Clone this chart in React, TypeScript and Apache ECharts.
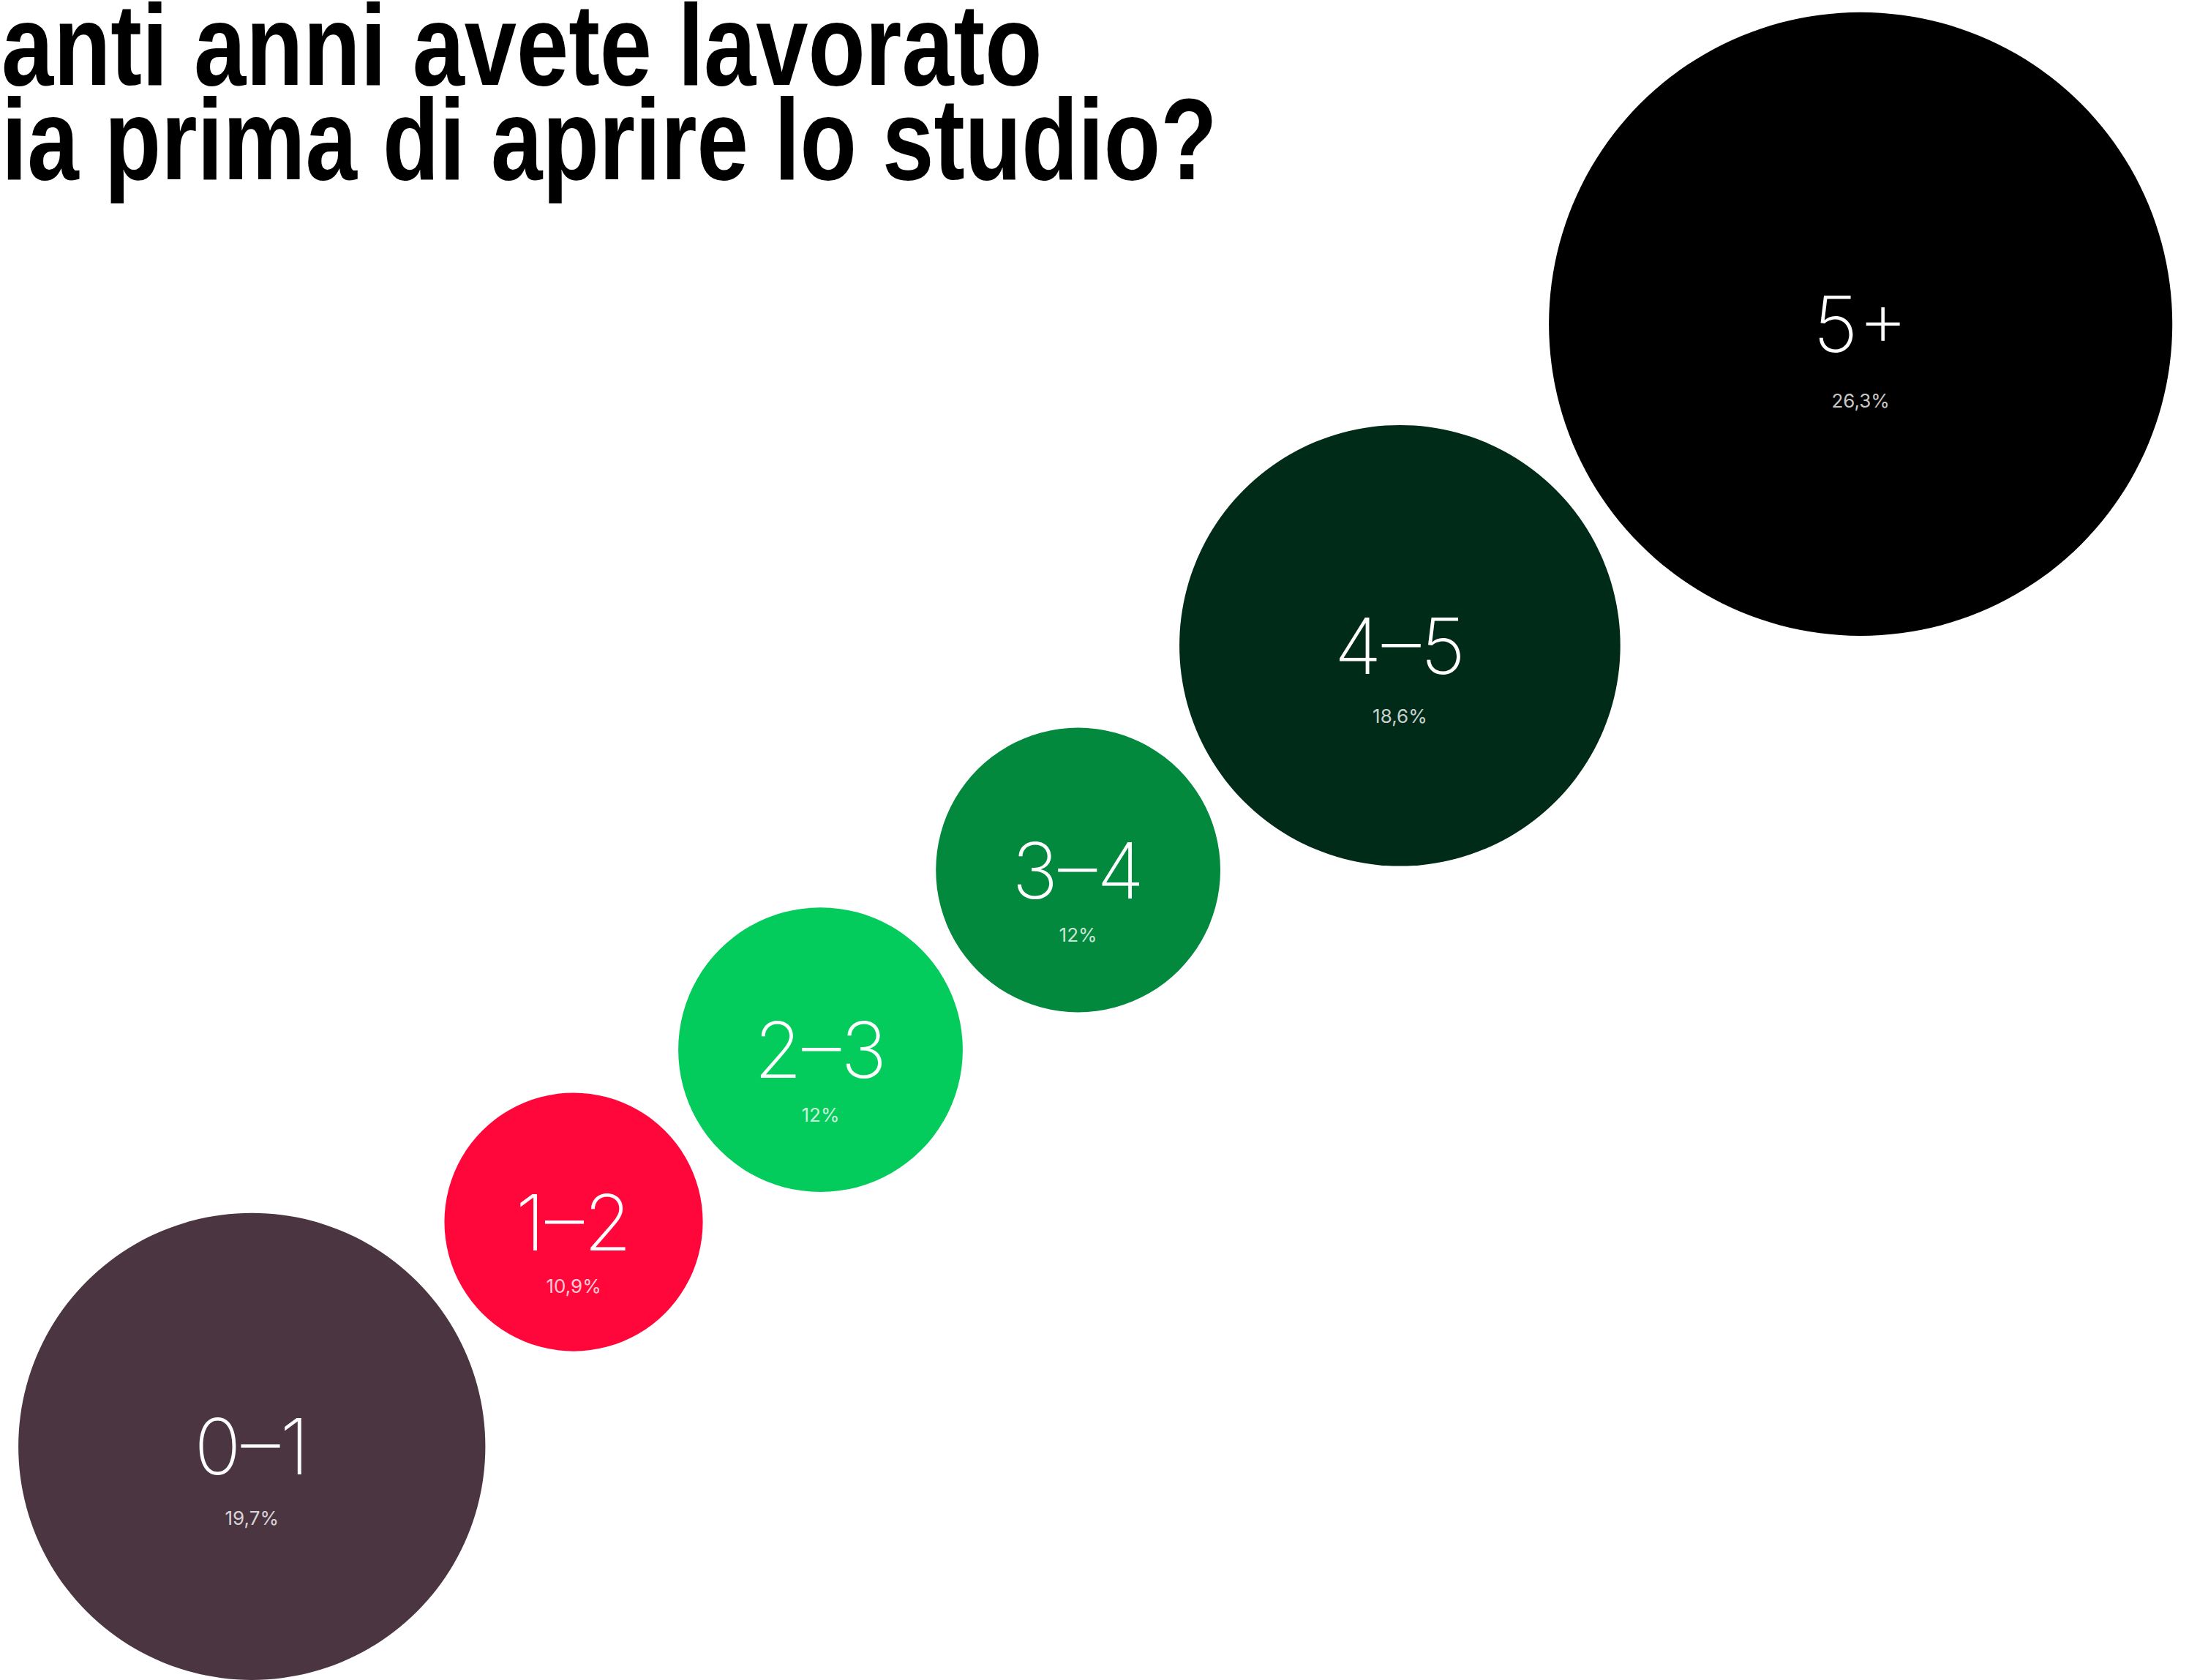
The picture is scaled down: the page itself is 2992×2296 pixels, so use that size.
import React, { useEffect, useRef } from "react";
import * as echarts from "echarts";

// ---- data ----
const categories = ["0–1", "1–2", "2–3", "3–4", "4–5", "5+"];
const shares = [19.7, 10.9, 12, 12, 18.6, 26.3];
const shareLabels = ["19,7%", "10,9%", "12%", "12%", "18,6%", "26,3%"];
const colors = ["#4A3541", "#FF073B", "#03CB5C", "#02893D", "#012B19", "#000000"];
const titleLines = ["anti anni avete lavorato", "ia prima di aprire lo studio?"];

// ---- layout constants ----
const W = 2992;
const H = 2296;
const PX_PER_UNIT = 16.2; // radius in px per percentage point
const GAP = 2.5; // gap between bubbles, in percentage units
const ANGLE = (34.9 * Math.PI) / 180;
const X_PAD = 1.55;

function layout() {
  const pts: number[][] = [];
  let s = 0;
  for (let i = 0; i < shares.length; i++) {
    if (i > 0) s += shares[i - 1] + GAP + shares[i];
    const x = shares[0] + X_PAD + s * Math.cos(ANGLE);
    const y = shares[0] + s * Math.sin(ANGLE);
    pts.push([x, y]);
  }
  return pts;
}

const titleStyle = {
  fill: "#000000",
  fontSize: 158,
  lineHeight: 112,
  fontWeight: "bold",
  fontFamily: "'Liberation Sans', Arial, sans-serif",
  textAlign: "left",
  textVerticalAlign: "middle",
  align: "left",
  verticalAlign: "middle",
};

export default function App() {
  const ref = useRef<HTMLDivElement>(null);
  useEffect(() => {
    document.body.style.margin = "0";
    document.body.style.overflow = "hidden";
    const chart = echarts.init(ref.current!, null, { renderer: "svg" });
    const pts = layout();
    const bubbles = shares.map((v, i) => ({
      name: categories[i],
      value: pts[i],
      symbolSize: 2 * v * PX_PER_UNIT,
      itemStyle: { color: colors[i] },
    }));
    const pcts = shares.map((v, i) => ({
      name: shareLabels[i],
      value: pts[i],
      label: { offset: [0, 75 + 0.07 * v * PX_PER_UNIT] },
    }));
    chart.setOption({
      animation: false,
      backgroundColor: "#ffffff",
      grid: { left: 0, right: 0, top: 0, bottom: 0, containLabel: false },
      xAxis: { type: "value", min: 0, max: W / PX_PER_UNIT, show: false },
      yAxis: { type: "value", min: 0, max: H / PX_PER_UNIT, show: false },
      graphic: [
        {
          type: "text",
          x: 2,
          y: 61,
          scaleX: 0.81,
          style: { ...titleStyle, text: titleLines[0] },
        },
        {
          type: "text",
          x: 2,
          y: 190,
          scaleX: 0.802,
          style: { ...titleStyle, text: titleLines[1] },
        },
      ],
      series: [
        {
          type: "scatter",
          silent: true,
          clip: false,
          symbol: "circle",
          data: bubbles,
          itemStyle: { opacity: 1 },
          label: {
            show: true,
            position: "inside",
            formatter: "{b}",
            color: "#ffffff",
            fontSize: 106,
            fontWeight: 200,
            fontFamily: "Inter, Roboto, sans-serif",
          },
          emphasis: { disabled: true },
        },
        {
          type: "scatter",
          silent: true,
          clip: false,
          symbol: "circle",
          symbolSize: 1,
          itemStyle: { color: "rgba(0,0,0,0)" },
          data: pcts,
          label: {
            show: true,
            position: "inside",
            formatter: "{b}",
            color: "#ffffff",
            fontSize: 26,
            fontWeight: 400,
            fontFamily: "Inter, Roboto, sans-serif",
          },
          emphasis: { disabled: true },
        },
      ],
    });
    return () => chart.dispose();
  }, []);
  return <div ref={ref} style={{ width: W, height: H }} />;
}
